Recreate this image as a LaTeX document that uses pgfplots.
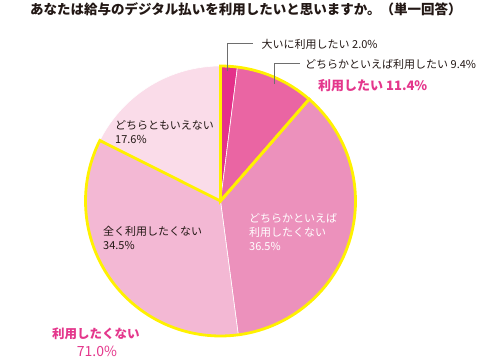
\documentclass[border=0pt]{standalone}
\usepackage{fontspec}
\setmainfont{Noto Sans CJK JP}
\usepackage{pgfplots}
\pgfplotsset{compat=1.18}
\definecolor{cA}{HTML}{E4318A}
\definecolor{cB}{HTML}{EA65A3}
\definecolor{cC}{HTML}{EC91BC}
\definecolor{cD}{HTML}{F3B8D4}
\definecolor{cE}{HTML}{FADCE9}
\definecolor{yel}{HTML}{FFF100}
\definecolor{pk}{HTML}{E4378C}
\definecolor{tx}{HTML}{231815}
\definecolor{ld}{HTML}{6E6E6E}
\newcommand{\fs}[1]{\fontsize{#1bp}{#1bp}\selectfont}
\begin{document}
\begin{tikzpicture}
\begin{axis}[width=491bp, height=364bp, scale only axis,
  xmin=0, xmax=491, ymin=0, ymax=364, y dir=reverse,
  hide axis, clip=false]
\path[draw=none] (axis cs:0,0) rectangle (axis cs:491,364);
% cumulative shares (%): 2.0, 9.4, 36.5, 34.5, 17.6
\addplot[fill=cA, draw=white, line width=0.6bp, domain=0:2.0, samples=4, variable=\p]
  ({220.5+135*sin(3.6*\p)}, {201-135*cos(3.6*\p)}) -- (axis cs:220.5,201) -- cycle;
\addplot[fill=cB, draw=white, line width=0.6bp, domain=2.0:11.4, samples=20, variable=\p]
  ({220.5+135*sin(3.6*\p)}, {201-135*cos(3.6*\p)}) -- (axis cs:220.5,201) -- cycle;
\addplot[fill=cC, draw=white, line width=0.6bp, domain=11.4:47.9, samples=70, variable=\p]
  ({220.5+135*sin(3.6*\p)}, {201-135*cos(3.6*\p)}) -- (axis cs:220.5,201) -- cycle;
\addplot[fill=cD, draw=white, line width=0.6bp, domain=47.9:82.4, samples=70, variable=\p]
  ({220.5+135*sin(3.6*\p)}, {201-135*cos(3.6*\p)}) -- (axis cs:220.5,201) -- cycle;
\addplot[fill=cE, draw=white, line width=0.6bp, domain=82.4:100, samples=40, variable=\p]
  ({220.5+135*sin(3.6*\p)}, {201-135*cos(3.6*\p)}) -- (axis cs:220.5,201) -- cycle;
% group outlines
\addplot[draw=yel, line width=2.8bp, line join=miter, domain=11.4:82.4, samples=120, variable=\p]
  ({220.5+135*sin(3.6*\p)}, {201-135*cos(3.6*\p)}) -- (axis cs:220.5,201) -- cycle;
\addplot[draw=yel, line width=2.8bp, line join=miter, domain=0:11.4, samples=25, variable=\p]
  ({220.5+135*sin(3.6*\p)}, {201-135*cos(3.6*\p)}) -- (axis cs:220.5,201) -- cycle;
% leader lines
\addplot[ld, line width=0.6bp] coordinates {(227.7,71) (227.7,43.5) (252.7,43.5)};
\addplot[ld, line width=0.6bp] coordinates {(274.3,84) (274.3,63.5) (300,63.5)};
% texts
\node[anchor=west, inner sep=0, text=tx, font=\fs{13.5}\bfseries] at (axis cs:30,9) {あなたは給与のデジタル払いを利用したいと思いますか。（単一回答）};
\node[anchor=west, inner sep=0, text=tx, font=\fs{11}] at (axis cs:261.5,44) {大いに利用したい 2.0\%};
\node[anchor=west, inner sep=0, text=tx, font=\fs{11}] at (axis cs:305,64) {どちらかといえば利用したい 9.4\%};
\node[anchor=west, inner sep=0, text=pk, font=\fs{13}\bfseries] at (axis cs:318,86) {利用したい 11.4\%};
\node[anchor=west, inner sep=0, text=tx, font=\fs{11}] at (axis cs:115,125) {どちらともいえない};
\node[anchor=west, inner sep=0, text=tx, font=\fs{11}] at (axis cs:115,139) {17.6\%};
\node[anchor=west, inner sep=0, text=tx, font=\fs{11}] at (axis cs:103,231) {全く利用したくない};
\node[anchor=west, inner sep=0, text=tx, font=\fs{11}] at (axis cs:103,245) {34.5\%};
\node[anchor=west, inner sep=0, text=white, font=\fs{11}] at (axis cs:249,218) {どちらかといえば};
\node[anchor=west, inner sep=0, text=white, font=\fs{11}] at (axis cs:249,232) {利用したくない};
\node[anchor=west, inner sep=0, text=white, font=\fs{11}] at (axis cs:249,246) {36.5\%};
\node[anchor=west, inner sep=0, text=pk, font=\fs{12.5}\bfseries] at (axis cs:52,334) {利用したくない};
\node[inner sep=0, text=pk, font=\fs{14}] at (axis cs:97,351) {71.0\%};
\end{axis}
\end{tikzpicture}
\end{document}
